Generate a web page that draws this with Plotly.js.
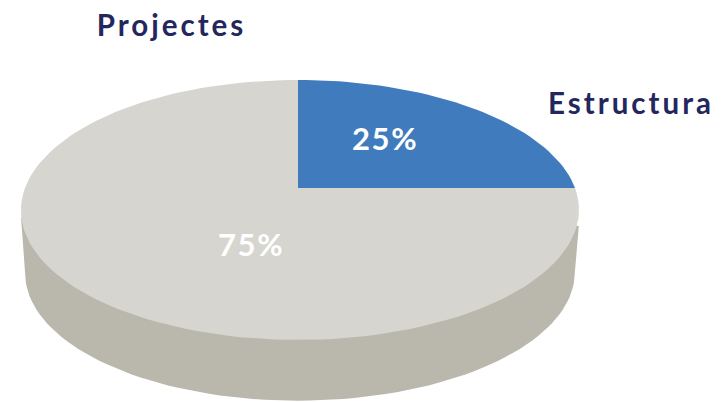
<!DOCTYPE html>
<html><head><meta charset="utf-8">
<script src="https://cdn.plot.ly/plotly-3.0.1.min.js"></script>
<style>
html,body{margin:0;padding:0;background:#fff}
#c{width:725px;height:402px}
.annotation-text{letter-spacing:1.6px}
.annotation[data-index="2"] .annotation-text,.annotation[data-index="3"] .annotation-text{letter-spacing:3px}
</style></head><body><div id="c"></div>
<script>
// data
const categories = ["Estructura", "Projectes"];
const shares = [25, 75];
const percentLabels = ["25%", "75%"];
const sliceColors = ["#407bbd", "#d6d5d0"];
const sideColor = "#bab8ac";
const textColor = "#23275d";

// 3D view of the disc (plane units = px at the chart's scale, origin on the pie centre)
const view = {a: 275, b: 126.3, k: 0.169, cx: 2, depth: 63, baseScale: 0.985};
function rim(tDeg, scale, drop) {
  const t = tDeg * Math.PI / 180, d = 1 + view.k * Math.sin(t), c = Math.cos(t);
  return [view.cx * c * c + scale * view.a * c / d, scale * view.b * Math.sin(t) / d - drop];
}
function sweep(fromDeg, toDeg, scale, drop) {
  const n = Math.max(2, Math.round(Math.abs(toDeg - fromDeg) / 2)), xs = [], ys = [];
  for (let i = 0; i <= n; i++) {
    const p = rim(fromDeg + (toDeg - fromDeg) * i / n, scale, drop);
    xs.push(p[0]); ys.push(p[1]);
  }
  return [xs, ys];
}
const total = shares.reduce((a, b) => a + b, 0);
const traces = [];
// side wall: short vertical edges, then the lower rim
const wall = sweep(-10, -170, view.baseScale, view.depth);
const edgeR = rim(-8, 1, 20), edgeL = rim(-172, 1, 12);
traces.push({type: "scatter", mode: "lines", fill: "toself", fillcolor: sideColor,
  x: [0, edgeR[0]].concat(wall[0], [edgeL[0], 0]), y: [0, edgeR[1]].concat(wall[1], [edgeL[1], 0]),
  line: {width: 0, color: sideColor}, hoverinfo: "skip", showlegend: false});
// top slices, clockwise from 12 o'clock
let start = 90;
const order = [1, 0];
const spans = shares.map(function (s) { const a = start; start -= s / total * 360; return [a, start]; });
order.forEach(function (i) {
  const s = sweep(spans[i][0], spans[i][1], 1, 0);
  traces.push({type: "scatter", mode: "lines", fill: "toself", fillcolor: sliceColors[i],
    x: [0].concat(s[0], [0]), y: [0].concat(s[1], [0]), name: categories[i],
    line: {width: 0, color: sliceColors[i]}, hoverinfo: "name", showlegend: false});
});

const labelFont = {family: "Lato, 'Open Sans', sans-serif", size: 29.5, color: textColor, weight: 700};
const pctFont = {family: "Lato, 'Open Sans', sans-serif", size: 31, color: "#ffffff", weight: 700};
const annotations = [
  {x: 87, y: 50, text: percentLabels[0], font: pctFont},
  {x: -47, y: -56, text: percentLabels[1], font: pctFont},
  {x: 333, y: 86, text: categories[0], font: labelFont},
  {x: -127, y: 164, text: categories[1], font: labelFont}
].map(function (a) { return Object.assign({xref: "x", yref: "y", showarrow: false, xanchor: "center", yanchor: "middle"}, a); });

Plotly.newPlot("c", traces, {
  width: 725, height: 402, margin: {l: 0, r: 0, t: 0, b: 0},
  paper_bgcolor: "#fff", plot_bgcolor: "#fff", showlegend: false,
  xaxis: {range: [-298, 427], visible: false, fixedrange: true},
  yaxis: {range: [-214, 188], visible: false, fixedrange: true},
  annotations: annotations
}, {displayModeBar: false, staticPlot: true});
</script></body></html>
